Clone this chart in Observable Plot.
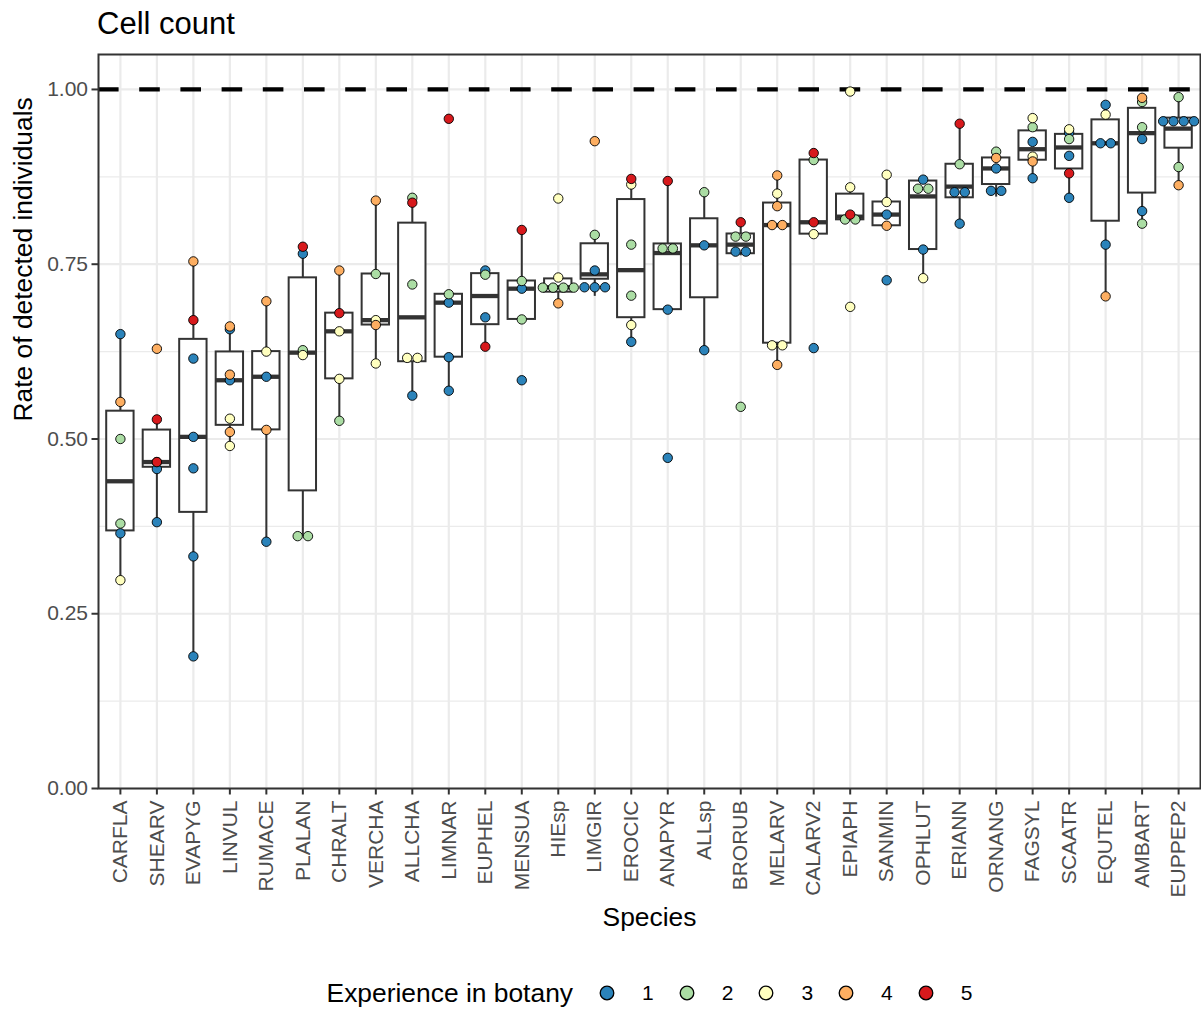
<!DOCTYPE html>
<html><head><meta charset="utf-8">
<script src="https://cdn.jsdelivr.net/npm/d3@7"></script>
<script src="https://cdn.jsdelivr.net/npm/@observablehq/plot@0.6"></script>
<style>
body{margin:0;background:#fff;font-family:"Liberation Sans",Arial,Helvetica,sans-serif;}
#wrap{width:1201px;}
#title{height:44px;box-sizing:border-box;padding:8px 0 0 97px;font-size:31px;line-height:31px;color:#000;white-space:nowrap;}
#legend{height:68px;box-sizing:border-box;padding:30px 0 0 98px;display:flex;justify-content:center;align-items:center;}
#legend .lt{font-size:26.4px;color:#000;margin-right:22px;}
#legend .key{width:24px;height:24px;display:inline-block;}
#legend .lab{font-size:21px;color:#000;margin-left:23px;margin-right:21px;}
#legend .lab.last{margin-right:0;}
</style></head>
<body><div id="wrap"><div id="title">Cell count</div><div id="chart"></div><div id="legend"></div></div>
<script>
const species = ["CARFLA","SHEARV","EVAPYG","LINVUL","RUMACE","PLALAN","CHRALT","VERCHA","ALLCHA","LIMNAR","EUPHEL","MENSUA","HIEsp","LIMGIR","EROCIC","ANAPYR","ALLsp","BRORUB","MELARV","CALARV2","EPIAPH","SANMIN","OPHLUT","ERIANN","ORNANG","FAGSYL","SCAATR","EQUTEL","AMBART","EUPPEP2"];

const rates = [
  [0.650,0.553,0.500,0.379,0.365,0.298],
  [0.629,0.528,0.467,0.467,0.457,0.381],
  [0.754,0.670,0.615,0.503,0.458,0.332,0.189],
  [0.661,0.657,0.592,0.584,0.529,0.510,0.490],
  [0.697,0.625,0.589,0.513,0.353],
  [0.775,0.765,0.627,0.620,0.361,0.361],
  [0.741,0.680,0.654,0.586,0.526],
  [0.841,0.736,0.670,0.663,0.608],
  [0.845,0.838,0.721,0.627,0.605,0.562],
  [0.958,0.707,0.695,0.617,0.569],
  [0.741,0.735,0.674,0.632],
  [0.799,0.726,0.715,0.671,0.584],
  [0.844,0.731,0.727,0.717,0.714,0.706,0.694],
  [0.926,0.792,0.741,0.730,0.728,0.704],
  [0.872,0.864,0.778,0.705,0.663,0.639],
  [0.869,0.779,0.766,0.685,0.473],
  [0.853,0.777,0.627],
  [0.810,0.797,0.782,0.774,0.762,0.546],
  [0.877,0.851,0.833,0.811,0.801,0.640,0.628,0.606],
  [0.909,0.899,0.810,0.793,0.630],
  [0.997,0.860,0.821,0.815,0.813,0.689],
  [0.878,0.839,0.821,0.805,0.727],
  [0.871,0.869,0.847,0.771,0.730],
  [0.951,0.893,0.861,0.845,0.808],
  [0.911,0.902,0.887,0.864,0.846],
  [0.959,0.946,0.925,0.904,0.897,0.873],
  [0.943,0.938,0.929,0.905,0.880,0.845],
  [0.978,0.964,0.934,0.912,0.778,0.704],
  [0.988,0.982,0.946,0.929,0.826,0.808],
  [0.989,0.966,0.952,0.944,0.943,0.889,0.863]
];

const experience = [
  [1,4,2,2,1,3],
  [4,5,5,3,1,1],
  [4,5,1,1,1,1,1],
  [4,1,4,1,3,4,3],
  [4,3,1,4,1],
  [5,1,2,3,2,2],
  [4,5,3,3,2],
  [4,2,3,4,3],
  [2,5,2,3,3,1],
  [5,2,1,1,1],
  [1,2,1,5],
  [5,2,1,2,1],
  [3,3,2,2,2,2,4],
  [4,2,1,1,1,1],
  [5,3,2,2,3,1],
  [5,2,2,1,1],
  [2,1,1],
  [5,2,2,1,1,2],
  [4,3,4,4,4,3,3,4],
  [5,2,5,3,1],
  [3,3,5,2,2,3],
  [3,3,1,4,1],
  [1,2,2,1,3],
  [5,2,1,1,1],
  [2,4,1,1,1],
  [3,2,1,3,4,1],
  [3,1,2,1,5,1],
  [1,3,1,1,1,4],
  [4,2,2,1,1,2],
  [2,1,1,1,1,2,4]
];

const levels = [1,2,3,4,5];
const palette = ["#2B83BA","#ABDDA4","#FFFFBF","#FDAE61","#D7191C"];
const yTicks = [0,0.25,0.5,0.75,1];
const yMinor = [0.125,0.375,0.625,0.875];
const refLine = [1];

// dot-density binning within each species x experience group (like geom_dotplot)
const allVals = rates.flat();
const binwidth = (d3.max(allVals) - d3.min(allVals)) / 30;
const points = [];
species.forEach((sp, i) => {
  for (const e of levels) {
    const vals = rates[i].filter((v, j) => experience[i][j] === e).sort(d3.ascending);
    const bins = [];
    let end = -Infinity;
    for (const v of vals) {
      if (v >= end) { bins.push([]); end = v + binwidth; }
      bins[bins.length - 1].push(v);
    }
    for (const b of bins) {
      const c = (b[0] + b[b.length - 1]) / 2;
      b.forEach((v, k) => points.push({species: sp, experience: e, value: v, y: c, slot: k - (b.length - 1) / 2}));
    }
  }
});

// boxplot statistics (Tukey, R type-7 quantiles)
const stats = species.map((sp, i) => {
  const v = rates[i].slice().sort(d3.ascending);
  const q1 = d3.quantile(v, 0.25), med = d3.quantile(v, 0.5), q3 = d3.quantile(v, 0.75);
  const iqr = q3 - q1;
  const lo = d3.min(v.filter(x => x >= q1 - 1.5 * iqr));
  const hi = d3.max(v.filter(x => x <= q3 + 1.5 * iqr));
  return {species: sp, q1, med, q3, lo, hi};
});

const R = 4.7, SW = 0.9, STEP = 2 * R + SW;
const slots = [...new Set(points.map(d => d.slot))].sort(d3.ascending);
const dotMarks = [];
for (const e of levels) for (const s of slots) {
  const sub = points.filter(d => d.experience === e && d.slot === s);
  if (sub.length) dotMarks.push(Plot.dot(sub, {x: "species", y: "y", r: R, fill: "experience", stroke: "black", strokeWidth: SW, dx: s * STEP}));
}

const ink = "#333333";
const chart = Plot.plot({
  width: 1201, height: 900,
  marginLeft: 98, marginRight: 1, marginTop: 10, marginBottom: 156,
  style: {fontFamily: "'Liberation Sans', Arial, Helvetica, sans-serif", fontSize: "21px", background: "white", color: "black", overflow: "visible"},
  x: {type: "band", domain: species, paddingInner: 0.25, paddingOuter: 0.225, round: false, label: null},
  y: {domain: [0, 1.05], label: null},
  color: {type: "ordinal", domain: levels, range: palette},
  marks: [
    Plot.gridY(yMinor, {stroke: "#EBEBEB", strokeOpacity: 1, strokeWidth: 1.1}),
    Plot.gridY(yTicks, {stroke: "#EBEBEB", strokeOpacity: 1, strokeWidth: 2.2}),
    Plot.gridX({stroke: "#EBEBEB", strokeOpacity: 1, strokeWidth: 2.2}),
    Plot.ruleY(refLine, {stroke: "black", strokeWidth: 4.3, strokeDasharray: "20.6,20.6"}),
    Plot.ruleX(stats, {x: "species", y1: "q3", y2: "hi", stroke: ink, strokeWidth: 2}),
    Plot.ruleX(stats, {x: "species", y1: "lo", y2: "q1", stroke: ink, strokeWidth: 2}),
    Plot.barY(stats, {x: "species", y1: "q1", y2: "q3", fill: "white", stroke: ink, strokeWidth: 2}),
    Plot.tickY(stats, {x: "species", y: "med", stroke: ink, strokeWidth: 4.3}),
    ...dotMarks,
    Plot.frame({stroke: ink, strokeWidth: 2}),
    Plot.axisY({ticks: yTicks, tickFormat: d3.format(".2f"), tickSize: 6.5, tickPadding: 4, stroke: ink, strokeWidth: 2, fill: "#4D4D4D", fontSize: 21, label: null}),
    Plot.axisX({tickRotate: -90, tickSize: 6.5, tickPadding: 5.5, stroke: ink, strokeWidth: 2, fill: "#4D4D4D", fontSize: 21, label: null}),
    Plot.text(["Species"], {text: d => d, frameAnchor: "bottom", dy: 137, lineAnchor: "bottom", fontSize: 26.4, fill: "black"}),
    Plot.text(["Rate of detected individuals"], {text: d => d, frameAnchor: "left", dx: -67, rotate: -90, lineAnchor: "bottom", fontSize: 26.4, fill: "black"})
  ]
});
document.getElementById("chart").appendChild(chart);

// legend
const lg = document.getElementById("legend");
const lt = document.createElement("span");
lt.className = "lt"; lt.textContent = "Experience in botany";
lg.appendChild(lt);
levels.forEach((e, i) => {
  const key = document.createElementNS("http://www.w3.org/2000/svg", "svg");
  key.setAttribute("class", "key");
  key.setAttribute("width", 24); key.setAttribute("height", 24);
  const c = document.createElementNS("http://www.w3.org/2000/svg", "circle");
  c.setAttribute("cx", 12); c.setAttribute("cy", 12); c.setAttribute("r", 6.8);
  c.setAttribute("fill", palette[i]); c.setAttribute("stroke", "black"); c.setAttribute("stroke-width", 1.3);
  key.appendChild(c);
  lg.appendChild(key);
  const lab = document.createElement("span");
  lab.className = "lab" + (i === levels.length - 1 ? " last" : "");
  lab.textContent = String(e);
  lg.appendChild(lab);
});
</script>
</body></html>
